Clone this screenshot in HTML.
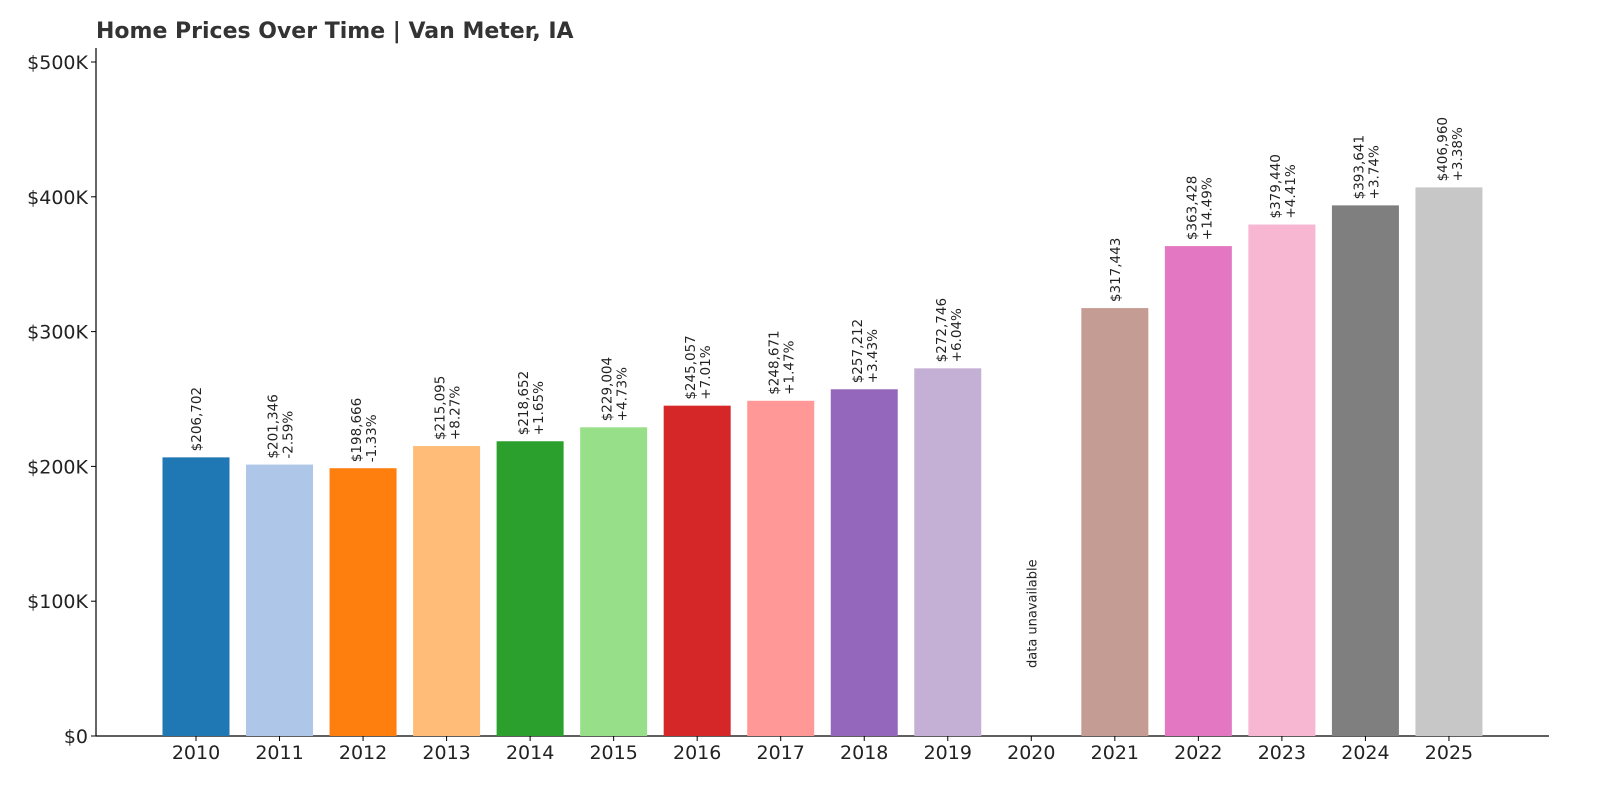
<!DOCTYPE html>
<html><head><meta charset="utf-8"><style>
html,body{margin:0;padding:0;background:#fff;}
svg{display:block;font-family:"DejaVu Sans","Liberation Sans",sans-serif;}
</style></head><body>
<svg id="chart" width="1600" height="800">
<text x="96" y="38" font-size="22" font-weight="bold" fill="#333">Home Prices Over Time | Van Meter, IA</text>
<g id="axes"></g><g id="bars"></g>
</svg>
<script>
const years=["2010","2011","2012","2013","2014","2015","2016","2017","2018","2019","2020","2021","2022","2023","2024","2025"];
const values=[206702,201346,198666,215095,218652,229004,245057,248671,257212,272746,null,317443,363428,379440,393641,406960];
const pcts=[null,"-2.59%","-1.33%","+8.27%","+1.65%","+4.73%","+7.01%","+1.47%","+3.43%","+6.04%",null,null,"+14.49%","+4.41%","+3.74%","+3.38%"];
const colors=["#1f77b4","#aec7e8","#ff7f0e","#ffbb78","#2ca02c","#98df8a","#d62728","#ff9896","#9467bd","#c5b0d5","#8c564b","#c49c94","#e377c2","#f7b6d2","#7f7f7f","#c7c7c7"];
const yTicks=[0,100000,200000,300000,400000,500000];
const yTickLabels=["$0","$100K","$200K","$300K","$400K","$500K"];
const NS="http://www.w3.org/2000/svg";
const y0=736,yMaxPx=62,yMax=500000;
const y=v=>y0-(v/yMax)*(y0-yMaxPx);
const x=i=>196+i*83.53;
const bw=67;
function mk(tag,attrs,parent,text){const e=document.createElementNS(NS,tag);for(const k in attrs)e.setAttribute(k,attrs[k]);if(text!=null)e.textContent=text;parent.appendChild(e);return e;}
const axes=document.getElementById('axes'),bars=document.getElementById('bars');
let a=mk('line',{x1:96,y1:48,x2:96,y2:y0,stroke:'#000','stroke-width':1.2},axes);

a=mk('line',{x1:96,y1:y0,x2:1549,y2:y0,stroke:'#000','stroke-width':1.2},axes);

yTicks.forEach((t,i)=>{
  mk('line',{x1:91,y1:y(t),x2:96,y2:y(t),stroke:'#000'},axes);
  const l=mk('text',{x:88,y:y(t)+7,'text-anchor':'end','font-size':19,fill:'#222'},axes,yTickLabels[i]);
  
  
});
years.forEach((yr,i)=>{
  const cx=x(i);
  mk('line',{x1:cx,y1:y0,x2:cx,y2:y0+5,stroke:'#000'},axes);
  const l=mk('text',{x:cx,y:y0+23,'text-anchor':'middle','font-size':19,fill:'#222'},axes,yr);
  
  
  const v=values[i];
  if(v==null){
    const t=mk('text',{transform:`translate(${cx+5},668) rotate(-90)`,'font-size':13,fill:'#222'},bars,'data unavailable');
    
    
    return;
  }
  const r=mk('rect',{x:cx-bw/2,y:y(v),width:bw,height:y0-y(v),fill:colors[i]},bars);
  
  
  const top=y(v)-6;
  const val='$'+v.toLocaleString('en-US');
  if(pcts[i]==null){
    const t=mk('text',{transform:`translate(${cx+5},${top}) rotate(-90)`,'font-size':13.5,fill:'#222'},bars,val);
    
    
  }else{
    const t=mk('text',{transform:`translate(${cx-2},${top}) rotate(-90)`,'font-size':13.5,fill:'#222'},bars,val);
    
    
    const p=mk('text',{transform:`translate(${cx+13},${top}) rotate(-90)`,'font-size':13.5,fill:'#222'},bars,pcts[i]);
    
    
  }
});
</script>
</body></html>
